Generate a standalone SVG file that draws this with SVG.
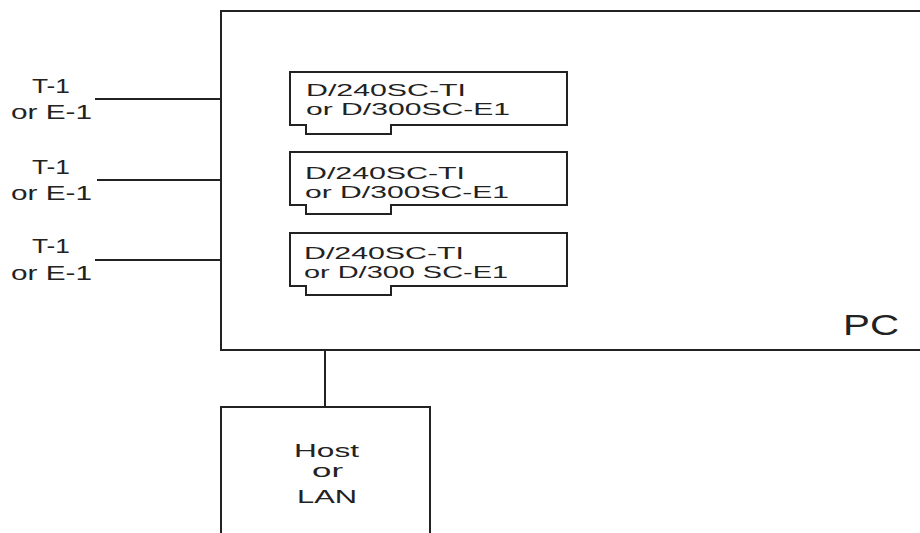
<svg xmlns="http://www.w3.org/2000/svg" width="920" height="533" viewBox="0 0 920 533">
<style>
.ln{fill:none;stroke:#222;stroke-width:2}
.t{font-family:"Liberation Sans","DejaVu Sans",sans-serif;fill:#222}
.c{font-size:17px}
.e{font-size:20px}
</style>
<rect width="920" height="533" fill="#fff"/>
<g id="pc">
<path class="ln" d="M921,11 H221 V350 H921"/>
<text class="t" x="843" y="335" font-size="30" textLength="56" lengthAdjust="spacingAndGlyphs">PC</text>
</g>
<g id="card1">
<path class="ln" d="M290,72 H567 V125 H391 V134 H306 V125 H290 Z"/>
<text class="t c" x="306" y="96" textLength="160" lengthAdjust="spacingAndGlyphs">D/240SC-TI</text>
<text class="t c" x="306" y="115" textLength="204" lengthAdjust="spacingAndGlyphs">or D/300SC-E1</text>
</g>
<g id="card2">
<path class="ln" d="M290,152 H567 V205 H391 V214 H306 V205 H290 Z"/>
<text class="t c" x="305" y="179" textLength="160" lengthAdjust="spacingAndGlyphs">D/240SC-TI</text>
<text class="t c" x="305" y="198" textLength="204" lengthAdjust="spacingAndGlyphs">or D/300SC-E1</text>
</g>
<g id="card3">
<path class="ln" d="M290,233 H567 V286 H391 V295 H306 V286 H290 Z"/>
<text class="t c" x="304" y="259" textLength="160" lengthAdjust="spacingAndGlyphs">D/240SC-TI</text>
<text class="t c" x="304" y="278" textLength="204" lengthAdjust="spacingAndGlyphs">or D/300 SC-E1</text>
</g>
<g id="line1">
<text class="t e" x="32" y="93" textLength="38" lengthAdjust="spacingAndGlyphs">T-1</text>
<text class="t e" x="11" y="119" textLength="81" lengthAdjust="spacingAndGlyphs">or E-1</text>
</g>
<g id="line2">
<text class="t e" x="32" y="174" textLength="38" lengthAdjust="spacingAndGlyphs">T-1</text>
<text class="t e" x="11" y="200" textLength="81" lengthAdjust="spacingAndGlyphs">or E-1</text>
</g>
<g id="line3">
<text class="t e" x="32" y="253" textLength="38" lengthAdjust="spacingAndGlyphs">T-1</text>
<text class="t e" x="11" y="280" textLength="81" lengthAdjust="spacingAndGlyphs">or E-1</text>
</g>
<g id="host">
<path class="ln" d="M221,540 V407 H430 V540"/>
<text class="t" x="294" y="457" font-size="19" textLength="65" lengthAdjust="spacingAndGlyphs">Host</text>
<text class="t" x="312" y="477" font-size="19" textLength="31" lengthAdjust="spacingAndGlyphs">or</text>
<text class="t" x="297" y="503" font-size="19" textLength="60" lengthAdjust="spacingAndGlyphs">LAN</text>
</g>
<g id="connectors">
<path class="ln" d="M95,99 H221"/>
<path class="ln" d="M97,180 H221"/>
<path class="ln" d="M95,260 H221"/>
<path class="ln" d="M325,350 V407"/>
</g>
</svg>
